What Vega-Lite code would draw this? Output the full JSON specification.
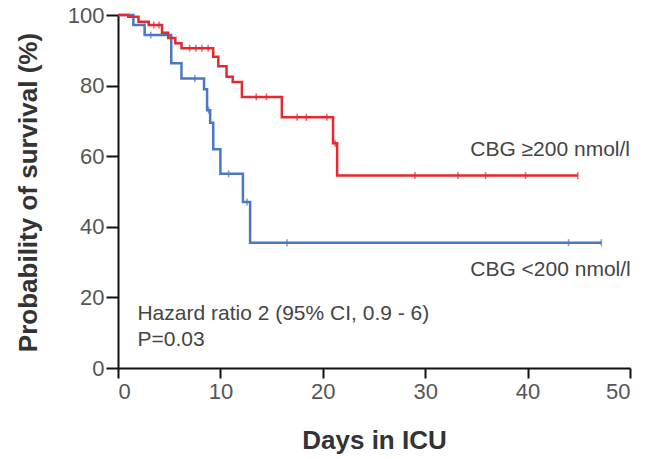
{
  "$schema": "https://vega.github.io/schema/vega-lite/v6.json",
  "width": 512,
  "height": 353,
  "autosize": {"type": "none"},
  "padding": {"left": 118, "top": 15, "right": 29, "bottom": 91},
  "background": "white",
  "config": {
    "view": {"stroke": null},
    "font": "Liberation Sans",
    "axis": {
      "grid": false,
      "domainColor": "#111",
      "domainWidth": 2,
      "tickColor": "#111",
      "tickWidth": 2,
      "labelFont": "Liberation Sans",
      "labelFontSize": 22,
      "labelColor": "#555",
      "titleFont": "Liberation Sans",
      "titleFontWeight": "bold",
      "titleColor": "#333"
    }
  },
  "datasets": {
    "curves": [
      {"group": "CBG <200", "day": 0, "surv": 100},
      {"group": "CBG <200", "day": 1.5, "surv": 97.2},
      {"group": "CBG <200", "day": 2.6, "surv": 94.3},
      {"group": "CBG <200", "day": 5.2, "surv": 86.3},
      {"group": "CBG <200", "day": 6.2, "surv": 82},
      {"group": "CBG <200", "day": 8.4, "surv": 79},
      {"group": "CBG <200", "day": 8.7, "surv": 73},
      {"group": "CBG <200", "day": 9.0, "surv": 69.5},
      {"group": "CBG <200", "day": 9.3, "surv": 62},
      {"group": "CBG <200", "day": 10.0, "surv": 55},
      {"group": "CBG <200", "day": 12.2, "surv": 47},
      {"group": "CBG <200", "day": 12.9, "surv": 35.5},
      {"group": "CBG <200", "day": 47.2, "surv": 35.5},
      {"group": "CBG ≥200", "day": 0, "surv": 100},
      {"group": "CBG ≥200", "day": 1.0, "surv": 99.5},
      {"group": "CBG ≥200", "day": 2.0, "surv": 98.1},
      {"group": "CBG ≥200", "day": 3.0, "surv": 97.2},
      {"group": "CBG ≥200", "day": 4.3, "surv": 95},
      {"group": "CBG ≥200", "day": 4.9, "surv": 93.5},
      {"group": "CBG ≥200", "day": 5.6, "surv": 92},
      {"group": "CBG ≥200", "day": 6.2, "surv": 90.6},
      {"group": "CBG ≥200", "day": 9.3, "surv": 88.2},
      {"group": "CBG ≥200", "day": 9.8, "surv": 85.5},
      {"group": "CBG ≥200", "day": 10.6, "surv": 82.5},
      {"group": "CBG ≥200", "day": 11.2, "surv": 81},
      {"group": "CBG ≥200", "day": 12.1, "surv": 76.8},
      {"group": "CBG ≥200", "day": 16.0, "surv": 71},
      {"group": "CBG ≥200", "day": 21.0, "surv": 63.7},
      {"group": "CBG ≥200", "day": 21.4, "surv": 54.5},
      {"group": "CBG ≥200", "day": 44.9, "surv": 54.5}
    ],
    "censored": [
      {"group": "CBG <200", "day": 3.2, "surv": 94.3},
      {"group": "CBG <200", "day": 7.5, "surv": 82},
      {"group": "CBG <200", "day": 8.85, "surv": 73},
      {"group": "CBG <200", "day": 10.8, "surv": 55},
      {"group": "CBG <200", "day": 12.6, "surv": 47},
      {"group": "CBG <200", "day": 16.5, "surv": 35.5},
      {"group": "CBG <200", "day": 44.0, "surv": 35.5},
      {"group": "CBG <200", "day": 47.2, "surv": 35.5},
      {"group": "CBG ≥200", "day": 3.5, "surv": 97.2},
      {"group": "CBG ≥200", "day": 4.0, "surv": 97.2},
      {"group": "CBG ≥200", "day": 7.0, "surv": 90.6},
      {"group": "CBG ≥200", "day": 7.6, "surv": 90.6},
      {"group": "CBG ≥200", "day": 8.2, "surv": 90.6},
      {"group": "CBG ≥200", "day": 8.8, "surv": 90.6},
      {"group": "CBG ≥200", "day": 13.5, "surv": 76.8},
      {"group": "CBG ≥200", "day": 14.5, "surv": 76.8},
      {"group": "CBG ≥200", "day": 17.5, "surv": 71},
      {"group": "CBG ≥200", "day": 18.4, "surv": 71},
      {"group": "CBG ≥200", "day": 20.4, "surv": 71},
      {"group": "CBG ≥200", "day": 21.2, "surv": 63.7},
      {"group": "CBG ≥200", "day": 29.0, "surv": 54.5},
      {"group": "CBG ≥200", "day": 33.2, "surv": 54.5},
      {"group": "CBG ≥200", "day": 35.9, "surv": 54.5},
      {"group": "CBG ≥200", "day": 39.8, "surv": 54.5},
      {"group": "CBG ≥200", "day": 44.9, "surv": 54.5}
    ],
    "notes": [
      {"t": "CBG ≥200 nmol/l", "day": 34.4, "surv": 61.8},
      {"t": "CBG <200 nmol/l", "day": 34.4, "surv": 27.8},
      {"t": "Hazard ratio 2 (95% CI, 0.9 - 6)", "day": 1.9, "surv": 15.3},
      {"t": "P=0.03", "day": 1.9, "surv": 7.8}
    ]
  },
  "resolve": {"scale": {"x": "shared", "y": "shared"}},
  "layer": [
    {
      "data": {"name": "curves"},
      "mark": {"type": "line", "interpolate": "step-after", "strokeWidth": 2.5},
      "encoding": {
        "x": {
          "field": "day", "type": "quantitative",
          "scale": {"domain": [0, 50], "nice": false},
          "axis": {"values": [0, 10, 20, 30, 40, 50], "title": "Days in ICU", "titleFontSize": 26, "tickSize": 10, "labelPadding": 3, "titleY": 72, "titleBaseline": "middle"}
        },
        "y": {
          "field": "surv", "type": "quantitative",
          "scale": {"domain": [0, 100], "nice": false},
          "axis": {
            "values": [0, 10, 20, 30, 40, 50, 60, 70, 80, 90, 100],
            "labelExpr": "datum.value % 20 == 0 ? datum.label : ''",
            "title": "Probability of survival (%)",
            "titleFontSize": 26,
            "tickSize": {"condition": {"test": "datum.value % 20 == 0", "value": 12}, "value": 8},
            "labelPadding": 2,
            "titleX": -90,
            "titleY": 177,
            "titleBaseline": "middle"
          }
        },
        "color": {
          "field": "group", "type": "nominal",
          "scale": {"domain": ["CBG <200", "CBG ≥200"], "range": ["#4a78c2", "#e6282f"]},
          "legend": null
        },
        "order": {"field": "day"}
      }
    },
    {
      "data": {"name": "censored"},
      "mark": {"type": "tick", "orient": "vertical", "size": 7, "thickness": 1.6},
      "encoding": {
        "x": {"field": "day", "type": "quantitative"},
        "y": {"field": "surv", "type": "quantitative"},
        "color": {"field": "group", "type": "nominal", "legend": null}
      }
    },
    {
      "data": {"name": "notes"},
      "mark": {"type": "text", "align": "left", "baseline": "middle", "fontSize": 21, "color": "#444"},
      "encoding": {
        "x": {"field": "day", "type": "quantitative"},
        "y": {"field": "surv", "type": "quantitative"},
        "text": {"field": "t"}
      }
    }
  ]
}
